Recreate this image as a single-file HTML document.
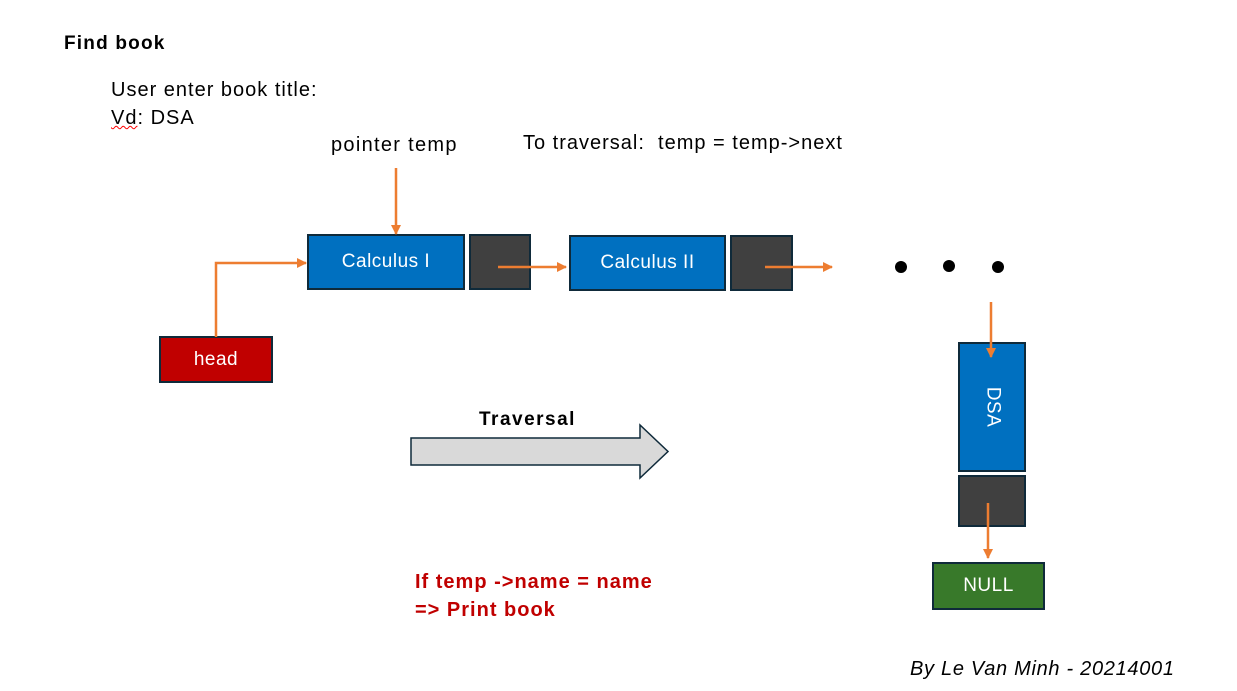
<!DOCTYPE html>
<html><head><meta charset="utf-8"><style>
body{margin:0;width:1237px;height:691px;background:#fff;position:relative;overflow:hidden;font-family:"Liberation Sans",Arial,sans-serif}
.t{position:absolute;white-space:nowrap;line-height:1;color:#000}
.b{position:absolute;box-sizing:border-box;border:2px solid #0f2a3a;display:flex;align-items:center;justify-content:center;color:#fff;font-size:19px;letter-spacing:0.5px}
.blue{background:#0070c0}.dark{background:#404040}
</style></head><body>
<div class="t" style="left:64px;top:34px;font-size:19px;font-weight:bold;letter-spacing:1.2px">Find book</div>
<div class="t" style="left:111px;top:80px;font-size:20px;letter-spacing:1px">User enter book title:</div>
<div class="t" style="left:111px;top:108px;font-size:20px;letter-spacing:1px"><span style="text-decoration:underline wavy red;text-decoration-thickness:1px">Vd</span>: DSA</div>
<div class="t" style="left:331px;top:135px;font-size:20px;letter-spacing:1.3px">pointer temp</div>
<div class="t" style="left:523px;top:133px;font-size:20px;letter-spacing:1px">To traversal:&nbsp; temp = temp-&gt;next</div>

<div class="b blue" style="left:307px;top:234px;width:158px;height:56px">Calculus I</div>
<div class="b dark" style="left:469px;top:234px;width:62px;height:56px"></div>
<div class="b blue" style="left:569px;top:235px;width:157px;height:56px">Calculus II</div>
<div class="b dark" style="left:730px;top:235px;width:63px;height:56px"></div>
<div class="b" style="left:159px;top:336px;width:114px;height:47px;background:#c00000">head</div>
<div class="b blue" style="left:958px;top:342px;width:68px;height:130px"><span style="transform:rotate(90deg);display:inline-block">DSA</span></div>
<div class="b dark" style="left:958px;top:475px;width:68px;height:52px"></div>
<div class="b" style="left:932px;top:562px;width:113px;height:48px;background:#38792a">NULL</div>

<svg width="1237" height="691" style="position:absolute;left:0;top:0">
<defs><marker id="a" markerWidth="10" markerHeight="10" refX="9" refY="5" orient="auto" markerUnits="userSpaceOnUse"><path d="M0,0 L10,5 L0,10 z" fill="#ed7d31"/></marker></defs>
<g stroke="#ed7d31" stroke-width="2.5" fill="none">
<line x1="396" y1="168" x2="396" y2="234" marker-end="url(#a)"/>
<polyline points="216,337 216,263 306,263" marker-end="url(#a)"/>
<line x1="498" y1="267" x2="566" y2="267" marker-end="url(#a)"/>
<line x1="765" y1="267" x2="832" y2="267" marker-end="url(#a)"/>
<line x1="991" y1="302" x2="991" y2="357" marker-end="url(#a)"/>
<line x1="988" y1="503" x2="988" y2="558" marker-end="url(#a)"/>
</g>
<circle cx="901" cy="267" r="6"/><circle cx="949" cy="266" r="6"/><circle cx="998" cy="267" r="6"/>
<path d="M411,438 L640,438 L640,425 L668,451.5 L640,478 L640,465 L411,465 Z" fill="#d9d9d9" stroke="#0f2a3a" stroke-width="1.5"/>
</svg>
<div class="t" style="left:479px;top:410px;font-size:19px;font-weight:bold;letter-spacing:1.5px">Traversal</div>
<div class="t" style="left:415px;top:572px;font-size:20px;font-weight:bold;color:#c00000;letter-spacing:1px">If temp -&gt;name = name</div>
<div class="t" style="left:415px;top:600px;font-size:20px;font-weight:bold;color:#c00000;letter-spacing:1px">=&gt; Print book</div>
<div class="t" style="left:910px;top:659px;font-size:20px;font-style:italic;letter-spacing:0.7px">By Le Van Minh - 20214001</div>
</body></html>
